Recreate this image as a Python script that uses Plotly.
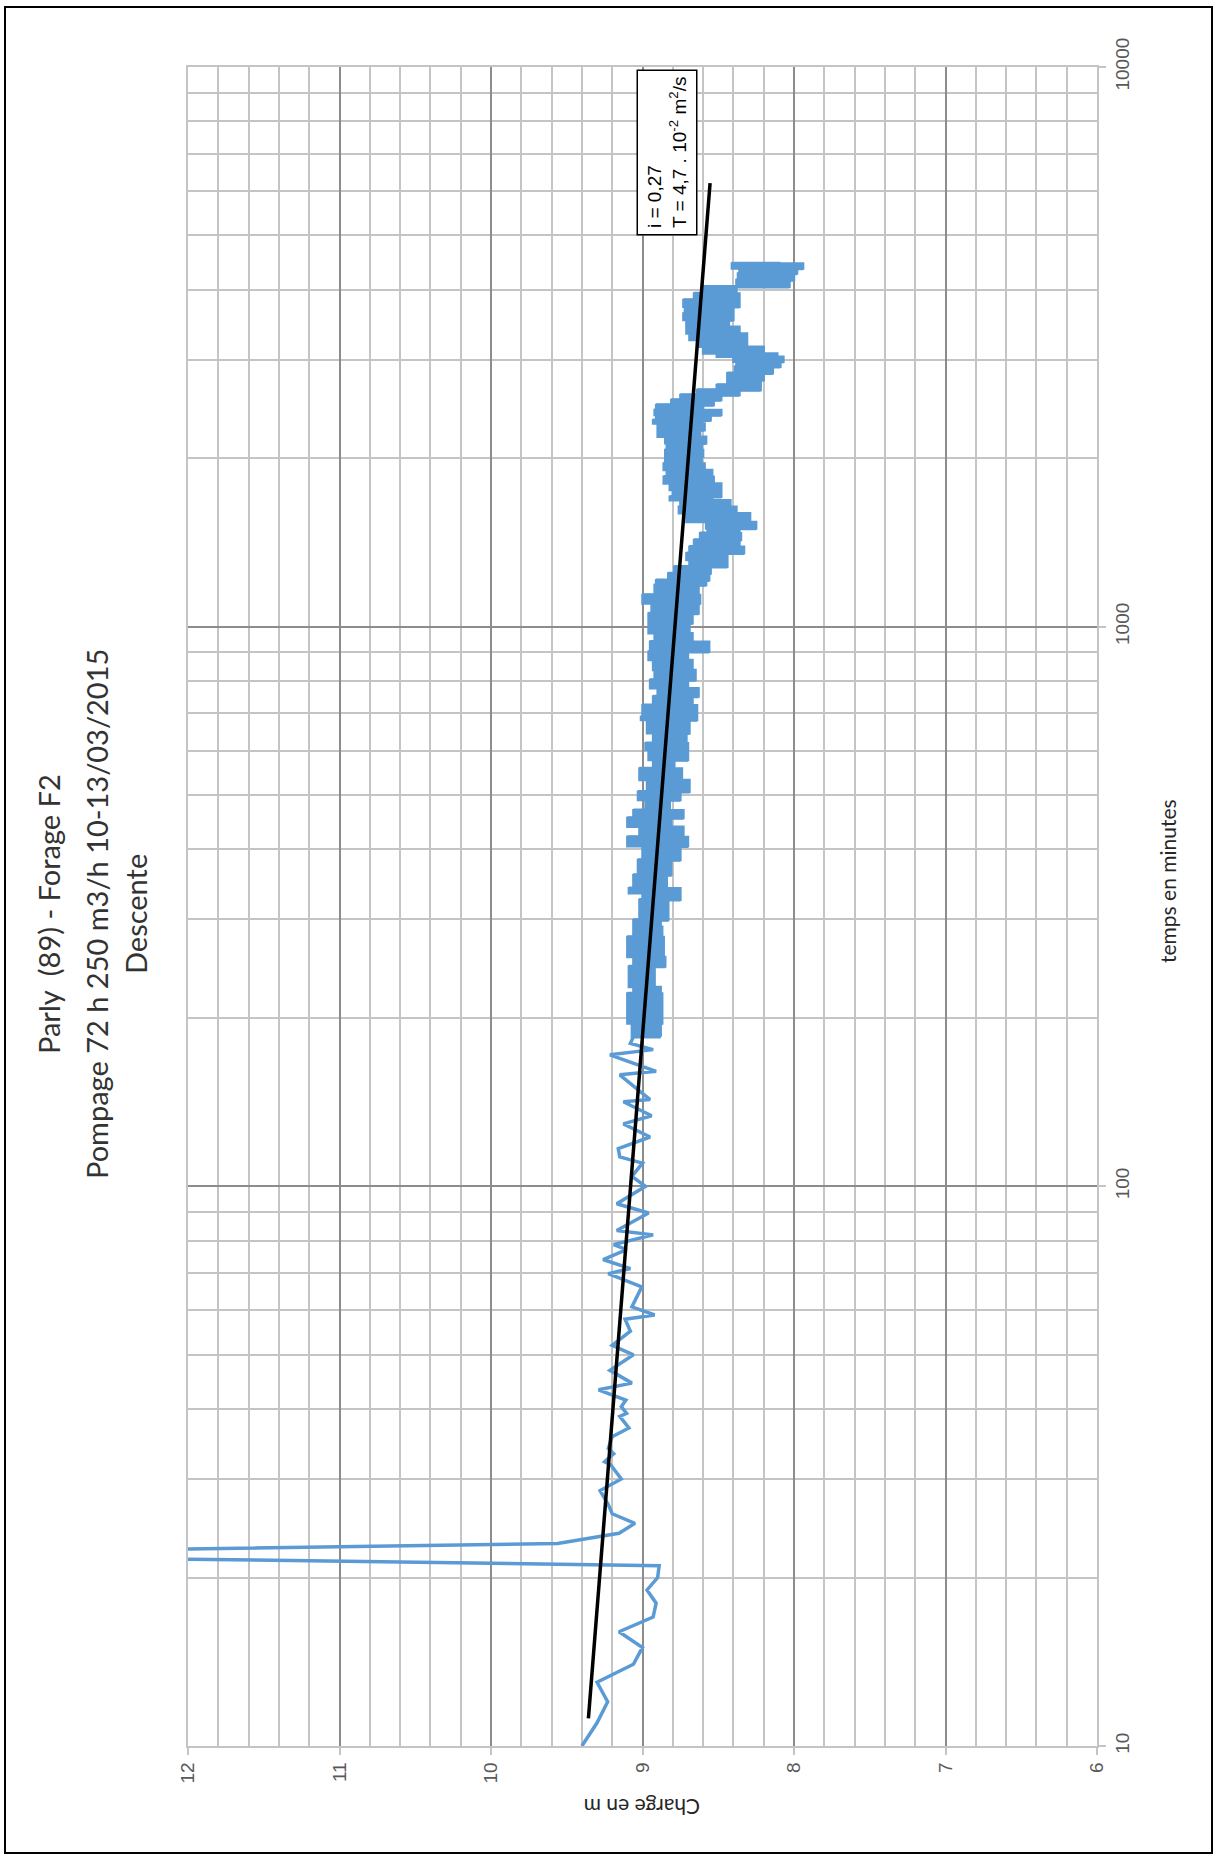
import plotly.graph_objects as go

# ---------------- data ----------------
# early measurements (time in minutes, charge in m)
early_time = [10, 11, 12, 13, 14, 15, 16, 17, 18, 19, 20, 21, 22, 23, 24, 25, 26, 27, 28.6, 30,
              31.8, 32.2, 33.3, 34, 35.7, 37, 38.8, 39.3, 40.4, 41.5, 43.3, 44.5, 46.9, 50, 52,
              55.1, 57.9, 58.9, 60.9, 66.1, 69.8, 71.3, 74, 77.1, 78.7, 81.9, 83.4, 89.6, 93.1,
              100, 104.2, 110, 112.9, 116.8, 122.5, 129.3, 133.7, 141.6, 142.9, 158.2, 160.5,
              171.8, 175.5, 180]
early_charge = [9.40, 9.30, 9.23, 9.30, 9.06, 9.00, 9.155, 8.93, 8.91, 8.97, 8.90, 8.89, 14.3, 9.56,
                9.155, 9.05, 9.20, 9.226, 9.28, 9.14, 9.21, 9.25, 9.19, 9.226, 9.20, 9.09, 9.15,
                9.105, 9.14, 9.11, 9.29, 9.07, 9.215, 9.06, 9.20, 9.08, 9.115, 8.92, 9.07, 9.005,
                9.226, 9.08, 9.26, 9.105, 9.19, 8.93, 9.17, 8.96, 9.17, 8.98, 9.07, 9.00, 9.15,
                9.16, 8.95, 9.126, 8.94, 9.126, 8.95, 9.15, 8.91, 9.215, 8.93, 9.08]

# dense part: at each time, the low and high excursions of the noisy record
dense_time = [185, 195.5, 221, 227, 247, 257, 279, 291, 299, 325, 334, 341, 360, 383, 405, 421,
              439, 455, 470, 490, 507, 532, 558, 578, 602, 619, 645, 681, 690, 724, 750, 776,
              803, 837, 872, 902, 940, 973, 1014, 1056, 1100, 1139, 1187, 1211, 1245, 1280,
              1315, 1352, 1389, 1428, 1468, 1498, 1539, 1594, 1638, 1683, 1706, 1754, 1803,
              1853, 1905, 1957, 2011, 2068, 2126, 2184, 2246, 2307, 2339, 2388, 2438, 2489,
              2541, 2594, 2647, 2702, 2758, 2836, 2914, 2974, 3036, 3078, 3163, 3251, 3342,
              3434, 3530, 3628, 3729, 3833, 3940, 4049, 4162, 4278, 4366, 4457]
dense_high = [9.06, 9.07, 9.10, 9.06, 9.09, 9.06, 9.10, 9.06, 9.06, 9.02, 9.00, 9.09, 9.06, 9.03,
              9.00, 9.10, 9.02, 9.10, 9.06, 8.98, 9.03, 8.97, 9.02, 8.93, 8.96, 8.98, 8.93, 8.97,
              9.01, 9.00, 8.93, 8.90, 8.95, 8.92, 8.93, 8.96, 8.95, 8.92, 8.96, 8.96, 8.94, 9.00,
              8.92, 8.91, 8.83, 8.79, 8.69, 8.71, 8.69, 8.66, 8.62, 8.57, 8.58, 8.71, 8.76, 8.75,
              8.82, 8.80, 8.82, 8.86, 8.84, 8.86, 8.85, 8.85, 8.84, 8.85, 8.90, 8.90, 8.93, 8.91,
              8.92, 8.91, 8.81, 8.75, 8.64, 8.51, 8.44, 8.44, 8.39, 8.38, 8.40, 8.51, 8.60, 8.64,
              8.69, 8.71, 8.71, 8.73, 8.72, 8.73, 8.66, 8.60, 8.38, 8.37, 8.36, 8.41]
dense_low = [8.88, 8.87, 8.88, 8.92, 8.85, 8.86, 8.87, 8.88, 8.83, 8.75, 8.75, 8.84, 8.81, 8.75,
             8.70, 8.73, 8.81, 8.73, 8.82, 8.75, 8.69, 8.74, 8.79, 8.70, 8.70, 8.71, 8.69, 8.64,
             8.64, 8.67, 8.63, 8.70, 8.65, 8.67, 8.70, 8.56, 8.67, 8.69, 8.67, 8.63, 8.62, 8.63,
             8.58, 8.56, 8.55, 8.44, 8.44, 8.33, 8.36, 8.35, 8.36, 8.25, 8.29, 8.38, 8.42, 8.54,
             8.48, 8.48, 8.53, 8.54, 8.59, 8.61, 8.60, 8.61, 8.58, 8.62, 8.59, 8.61, 8.55, 8.48,
             8.60, 8.53, 8.48, 8.36, 8.22, 8.22, 8.20, 8.14, 8.09, 8.07, 8.11, 8.20, 8.31, 8.31,
             8.36, 8.43, 8.40, 8.40, 8.36, 8.36, 8.38, 8.03, 8.00, 7.98, 7.94, 8.09]

# Jacob straight line (trend)
trend_time = [11.2, 6200]
trend_charge = [9.357, 8.554]

x_tickvals = [12, 11, 10, 9, 8, 7, 6]
x_ticktext = ["12", "11", "10", "9", "8", "7", "6"]
y_tickvals = [10, 100, 1000, 10000]
y_ticktext = ["10", "100", "1000", "10000"]

title_lines = ["Parly  (89) - Forage F2", "Pompage 72 h 250 m3/h 10-13/03/2015", "Descente"]
x_title = "Charge en m"
y_title = "temps en minutes"
box_text = "i = 0,27<br>T = 4,7 . 10<sup>-2</sup> m<sup>2</sup>/s"

# ---------------- build series ----------------
series_t = list(early_time)
series_c = list(early_charge)
for t, h, l in zip(dense_time, dense_high, dense_low):
    series_t += [t, t]
    series_c += [h, l]

band_c = list(dense_high) + list(reversed(dense_low))
band_t = list(dense_time) + list(reversed(dense_time))

BLUE = "#5B9BD5"
fig = go.Figure()
fig.add_trace(go.Scatter(x=band_c, y=band_t, mode="lines", fill="toself", fillcolor=BLUE,
                         line=dict(color=BLUE, width=2.5, shape="hv"), hoverinfo="skip",
                         showlegend=False))
fig.add_trace(go.Scatter(x=series_c, y=series_t, mode="lines",
                         line=dict(color=BLUE, width=3.5), showlegend=False))
fig.add_trace(go.Scatter(x=trend_charge, y=trend_time, mode="lines",
                         line=dict(color="black", width=3.5), showlegend=False))

# plot area in pixels: x 188..1097, y 67..1746
L, R, T, B = 188, 1097, 67, 1746
W, H = 1215, 1859


def px(x):
    return (x - L) / (R - L)


def py(y):
    return (B - y) / (B - T)


tickfont = dict(family="Liberation Sans, Arial", size=19, color="#595959")
MAJ = "#8C8C8C"
MIN = "#C4C4C4"

fig.update_layout(
    width=W, height=H,
    margin=dict(l=L, r=W - R, t=T, b=H - B),
    paper_bgcolor="white", plot_bgcolor="white",
    showlegend=False,
    xaxis=dict(range=[12, 6], tickmode="array", tickvals=x_tickvals, ticktext=x_ticktext,
               tickangle=-90, tickfont=tickfont, showgrid=True, gridcolor=MAJ, gridwidth=1.5,
               minor=dict(dtick=0.2, tick0=6, showgrid=True, gridcolor=MIN, gridwidth=1.5),
               ticks="outside", ticklen=7, tickcolor=MIN, tickwidth=1.5,
               showline=True, linecolor=MIN, linewidth=1.5, mirror=True, zeroline=False),
    yaxis=dict(type="log", range=[1, 4], side="right", tickmode="array", tickvals=y_tickvals,
               ticktext=y_ticktext, tickangle=-90, tickfont=tickfont,
               showgrid=True, gridcolor=MAJ, gridwidth=1.5,
               minor=dict(tickmode="linear", dtick="D1", showgrid=True, gridcolor=MIN, gridwidth=1.5),
               ticks="outside", ticklen=7, tickcolor=MIN, tickwidth=1.5,
               showline=True, linecolor=MIN, linewidth=1.5, mirror=True, zeroline=False),
)

title_x = [48, 96, 135]
annos = []
for txt, xx in zip(title_lines, title_x):
    annos.append(dict(text=txt, xref="paper", yref="paper", x=px(xx), y=py(914),
                      xanchor="center", yanchor="middle", textangle=-90, showarrow=False,
                      font=dict(family="Lato", size=29, color="#333333")))
annos.append(dict(text=y_title, xref="paper", yref="paper", x=px(1167), y=py(881),
                  xanchor="center", yanchor="middle", textangle=-90, showarrow=False,
                  font=dict(family="Lato", size=21, color="#262626")))
annos.append(dict(text=x_title, xref="paper", yref="paper", x=px(642), y=py(1808),
                  xanchor="center", yanchor="middle", textangle=180, showarrow=False,
                  font=dict(family="Lato", size=21, color="#262626")))
annos.append(dict(text=box_text, xref="paper", yref="paper", x=px(667), y=py(152.5),
                  xanchor="center", yanchor="middle", textangle=-90, showarrow=False, align="left",
                  bgcolor="white", bordercolor="black", borderwidth=1.5, borderpad=6,
                  font=dict(family="Liberation Sans, Arial", size=19, color="black")))
fig.update_layout(annotations=annos)

fig.add_shape(type="rect", xref="paper", yref="paper", x0=px(5), x1=px(1212), y0=py(1853), y1=py(7),
              line=dict(color="black", width=2), fillcolor="rgba(0,0,0,0)", layer="below")

fig.write_html("out.html")
